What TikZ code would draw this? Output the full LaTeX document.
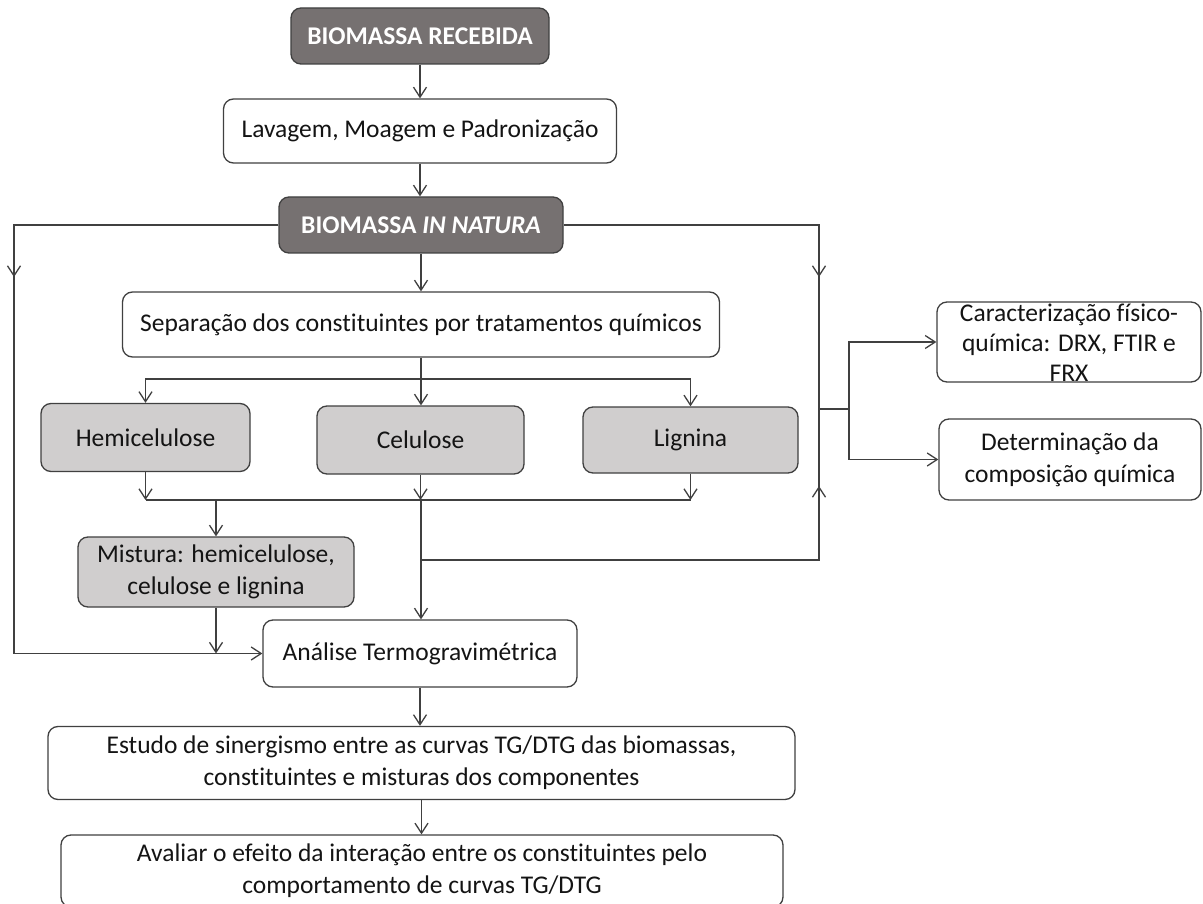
\documentclass[tikz,border=0pt]{standalone}
\usepackage{fontspec}
\setmainfont{Carlito}[Ligatures=NoCommon]
\usetikzlibrary{arrows.meta}
\definecolor{darkfill}{HTML}{767171}
\definecolor{grayfill}{HTML}{D0CECE}
\definecolor{linec}{HTML}{404040}
\definecolor{txt}{HTML}{141414}
\tikzset{
  box/.style={rounded corners=10pt, draw=linec, line width=1.3pt, align=center,
    inner sep=0pt, text=txt, font=\fontsize{25.5}{32}\selectfont},
  darkbox/.style={box, fill=darkfill, text=white, font=\fontsize{25.5}{32}\selectfont\bfseries},
  graybox/.style={box, fill=grayfill},
  whitebox/.style={box, fill=white},
  boxtext/.style={text=txt, align=center, inner sep=0pt, font=\fontsize{25.5}{30}\selectfont},
  ln/.style={draw=linec, line width=1.3pt},
  arr/.style={ln, -{Straight Barb[length=10pt,width=13pt,line width=1.3pt]}}
}
\begin{document}
\begin{tikzpicture}[x=1pt,y=-1pt]
\useasboundingbox[fill=white] (0,0) rectangle (1203,904);
% nodes
\node[darkbox, minimum width=258, minimum height=56] (rec) at (420,36) {BIOMASSA RECEBIDA};
\node[whitebox, minimum width=393, minimum height=64] (lav) at (420,131) {Lavagem, Moagem e Padronização};
\node[darkbox, minimum width=284, minimum height=56] (nat) at (421,225) {BIOMASSA \textit{IN NATURA}};
\node[whitebox, minimum width=597, minimum height=65] (sep) at (421,324.5) {Separação dos constituintes por tratamentos químicos};
\node[graybox, minimum width=209, minimum height=68] (hemi) at (145.5,437.5) {Hemicelulose};
\node[graybox, minimum width=207, minimum height=68] (cel) at (420.5,440) {Celulose};
\node[graybox, minimum width=215, minimum height=66] (lig) at (690.5,440) {Lignina};
\node[graybox, minimum width=276, minimum height=70] (mist) at (216,572) {Mistura: hemicelulose,\\celulose e lignina};
\node[whitebox, minimum width=314, minimum height=67] (ana) at (420,653.5) {Análise Termogravimétrica};
\node[whitebox, minimum width=747, minimum height=73] (est) at (421.5,763) {Estudo de sinergismo entre as curvas TG/DTG das biomassas,\\constituintes e misturas dos componentes};
\node[whitebox, minimum width=722, minimum height=72] (aval) at (422,871) {Avaliar o efeito da interação entre os constituintes pelo\\comportamento de curvas TG/DTG};
\node[whitebox, minimum width=264, minimum height=80] (car) at (1069,342) {};
\node[boxtext] (cartxt) at (1069,343) {Caracterização físico-\\química: DRX, FTIR e\\FRX};
\node[whitebox, minimum width=262, minimum height=81] (det) at (1070,459.5) {Determinação da\\composição química};
% coordinates
\coordinate (split) at (421,379);
\coordinate (merge) at (421,500);
\coordinate (ltop) at (14,225);
\coordinate (lmid) at (14,277);
\coordinate (lbot) at (14,653.5);
\coordinate (rtop) at (819,225);
\coordinate (rmid1) at (819,277);
\coordinate (rj) at (819,409);
\coordinate (rmid2) at (819,486);
\coordinate (rbot) at (819,560);
\coordinate (cj) at (421,560);
\coordinate (sj) at (849,409);
% connectors
\draw[arr] (rec) -- (lav);
\draw[arr] (lav.south) -- (lav.south |- nat.north);
\draw[arr] (nat.south) -- (nat.south |- sep.north);
\draw[ln] (sep.south) -- (split);
\draw[arr] (split) -| (hemi.north);
\draw[arr] (split) -| (lig.north);
\draw[arr] (split) -- (split |- cel.north);
\draw[arr] (hemi.south) -- (hemi.south |- merge);
\draw[arr] (cel.south) -- (cel.south |- merge);
\draw[arr] (lig.south) -- (lig.south |- merge);
\draw[ln] (hemi.south |- merge) -- (lig.south |- merge);
\draw[arr] (mist.north |- merge) -- (mist.north);
\draw[arr] (merge) -- (merge |- ana.north);
\draw[arr] (mist.south) -- (mist.south |- ana.west);
\draw[arr] (nat.west) -- (ltop) -- (lbot) -- (ana.west);
\draw[arr] (ltop) -- (lmid);
\draw[ln] (cj) -- (rbot) -- (rtop) -- (nat.east);
\draw[arr] (rtop) -- (rmid1);
\draw[arr] (rbot) -- (rmid2);
\draw[ln] (rj) -- (sj);
\draw[arr] (sj) |- (car.west);
\draw[arr] (sj) |- (det.west);
\draw[arr] (ana.south) -- (ana.south |- est.north);
\draw[arr] (est.south) -- (est.south |- aval.north);
\end{tikzpicture}
\end{document}
